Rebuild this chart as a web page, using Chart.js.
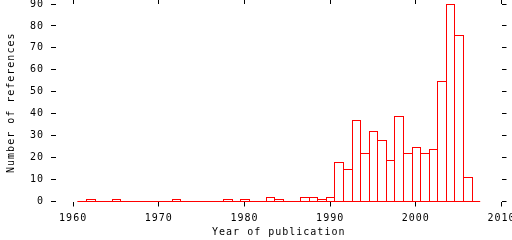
<!DOCTYPE html>
<html><head><meta charset="utf-8">
<script src="https://cdn.jsdelivr.net/npm/chart.js@4/dist/chart.umd.min.js"></script>
<style>html,body{margin:0;padding:0;background:#fff}canvas{display:block}</style>
</head><body>
<canvas id="c" width="512" height="240"></canvas>
<script>
const years = [1961,1962,1963,1964,1965,1966,1967,1968,1969,1970,
  1971,1972,1973,1974,1975,1976,1977,1978,1979,1980,
  1981,1982,1983,1984,1985,1986,1987,1988,1989,1990,
  1991,1992,1993,1994,1995,1996,1997,1998,1999,2000,
  2001,2002,2003,2004,2005,2006,2007];
const counts = [0,1,0,0,1,0,0,0,0,0,
  0,1,0,0,0,0,0,1,0,1,
  0,0,2,1,0,0,2,2,1,2,
  18,15,37,22,32,28,19,39,22,25,
  22,24,55,90,76,11,0];
const xTickValues = [1960,1970,1980,1990,2000,2010];
const yTickValues = [0,10,20,30,40,50,60,70,80,90];
const xTitle = 'Year of publication';
const yTitle = 'Number of references';

const FONT = {family: '"DejaVu Sans Mono", monospace', size: 10, lineHeight: 1.2};
const RED = '#ff0000';

const spacing = {
  id: 'spacing',
  beforeDraw(chart) { chart.ctx.letterSpacing = '1px'; }
};

// snap bar edges to whole pixels (positions still come from the x/y scales)
const snapBars = {
  id: 'snapBars',
  afterDatasetsUpdate(chart) {
    const meta = chart.getDatasetMeta(0);
    const xs = chart.scales.x;
    meta.data.forEach((el, i) => {
      const L = Math.round(xs.getPixelForValue(years[i] - 0.5));
      const R = Math.round(xs.getPixelForValue(years[i] + 0.5)) + 1;
      el.x = (L + R) / 2;
      el.width = R - L;
      el.y = Math.round(el.y);
    });
  }
};

const setX = s => { s.ticks = xTickValues.map(v => ({value: v})); };
const setY = s => { s.ticks = yTickValues.map(v => ({value: v})); };
const fitH = h => s => { s.height = h; s.paddingLeft = 0; s.paddingRight = 0; s.paddingTop = 0; s.paddingBottom = 0; };
const fitW = w => s => { s.width = w; s.paddingLeft = 0; s.paddingRight = 0; s.paddingTop = 0; s.paddingBottom = 0; };
const gridOpts = {drawOnChartArea: false, color: '#000', tickLength: 5, lineWidth: 1};
const plain = v => String(v);

new Chart(document.getElementById('c'), {
  data: {
    datasets: [
      {
        type: 'bar',
        data: years.map((y, i) => ({x: y, y: counts[i]})),
        backgroundColor: '#fff',
        borderColor: RED,
        borderWidth: 1,
        borderSkipped: 'start',
        inflateAmount: 0,
        barPercentage: 1.117,
        categoryPercentage: 1,
        order: 1
      },
      {
        type: 'line',
        data: [{x: years[0] - 0.5, y: 0}, {x: years[years.length - 1] + 0.5, y: 0}],
        borderColor: RED,
        borderWidth: 1,
        pointRadius: 0,
        clip: 2,
        order: 0
      }
    ]
  },
  options: {
    responsive: false,
    devicePixelRatio: 1,
    animation: false,
    layout: {padding: 0},
    plugins: {legend: {display: false}, tooltip: {enabled: false}},
    scales: {
      x: {
        type: 'linear', position: 'bottom', min: 1958, max: 2010, offset: false,
        afterBuildTicks: setX,
        afterFit: fitH(38.5),
        grid: Object.assign({offset: false}, gridOpts), border: {display: false},
        ticks: {padding: 6, color: '#000', font: FONT, maxRotation: 0, autoSkip: false, callback: plain},
        title: {display: true, text: xTitle, color: '#000', font: FONT, padding: {top: 0, bottom: 2}}
      },
      x2: {
        type: 'linear', position: 'top', min: 1958, max: 2010, offset: false,
        afterBuildTicks: setX,
        afterFit: fitH(4),
        grid: Object.assign({offset: false}, gridOpts), border: {display: false},
        ticks: {display: false}
      },
      y: {
        type: 'linear', position: 'left', min: 0, max: 90,
        afterBuildTicks: setY,
        afterFit: fitW(56),
        grid: gridOpts, border: {display: false},
        ticks: {padding: 7, color: '#000', font: FONT, callback: plain},
        title: {display: true, text: yTitle, color: '#000', font: FONT, padding: {top: 5, bottom: 0}}
      },
      y2: {
        type: 'linear', position: 'right', min: 0, max: 90,
        afterBuildTicks: setY,
        afterFit: fitW(10.5),
        grid: gridOpts, border: {display: false},
        ticks: {display: false}
      }
    }
  },
  plugins: [spacing, snapBars]
});
</script>
</body></html>
